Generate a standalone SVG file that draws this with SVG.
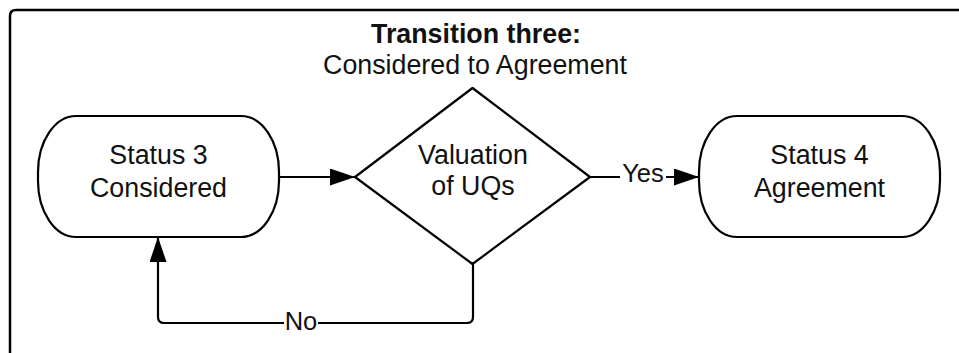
<svg xmlns="http://www.w3.org/2000/svg" width="959" height="353" viewBox="0 0 959 353">
  <style>
    .shape { fill: #ffffff; stroke: #000000; stroke-width: 2.2; }
    .frame { fill: none; stroke: #000000; stroke-width: 2.5; }
    .wire { fill: none; stroke: #000000; stroke-width: 2.2; }
    .txt { font-family: "Liberation Sans", Arial, sans-serif; font-size: 26.8px; fill: #111111; text-anchor: middle; }
    .title { font-weight: bold; }
    .lbl { font-family: "Liberation Sans", Arial, sans-serif; font-size: 25.5px; fill: #111111; text-anchor: middle; }
  </style>
  <defs>
    <marker id="arrow" viewBox="0 0 25 17" refX="25" refY="8.5" markerWidth="25" markerHeight="17" markerUnits="userSpaceOnUse" orient="auto">
      <path d="M0,0 L25,8.5 L0,17 z" fill="#000000"/>
    </marker>
  </defs>
  <rect width="959" height="353" fill="#ffffff"/>

  <!-- outer frame: open at bottom and right -->
  <path class="frame" d="M10,353 L10,16 Q10,10 16,10 L959,10"/>

  <g id="title">
    <text class="txt title" x="476" y="43">Transition three:</text>
    <text class="txt" x="475" y="73.5">Considered to Agreement</text>
  </g>

  <g id="connectors">
    <path class="wire" d="M279,177 L355,177" marker-end="url(#arrow)"/>
    <path class="wire" d="M590,177 L699,177" marker-end="url(#arrow)"/>
    <rect x="620" y="160" width="46" height="28" fill="#ffffff"/>
    <text class="lbl" x="643" y="182">Yes</text>
    <path class="wire" d="M473,264 L473,317 Q473,323 467,323 L164,323 Q158,323 158,317 L158,237" marker-end="url(#arrow)"/>
    <rect x="284" y="309" width="34" height="28" fill="#ffffff"/>
    <text class="lbl" x="301" y="329.5">No</text>
  </g>

  <g id="status3">
    <rect class="shape" x="38" y="116" width="241" height="121" rx="38" ry="56"/>
    <text class="txt" x="158.5" y="164">Status 3</text>
    <text class="txt" x="158.5" y="196.5">Considered</text>
  </g>

  <g id="valuation">
    <path class="shape" stroke-linejoin="round" d="M472.5,88 L590,177 L472.5,264 L355,177 z"/>
    <text class="txt" x="473" y="163.5">Valuation</text>
    <text class="txt" x="473" y="195">of UQs</text>
  </g>

  <g id="status4">
    <rect class="shape" x="699" y="116" width="241" height="121" rx="38" ry="56"/>
    <text class="txt" x="819.5" y="164">Status 4</text>
    <text class="txt" x="819.5" y="196.5">Agreement</text>
  </g>
</svg>
